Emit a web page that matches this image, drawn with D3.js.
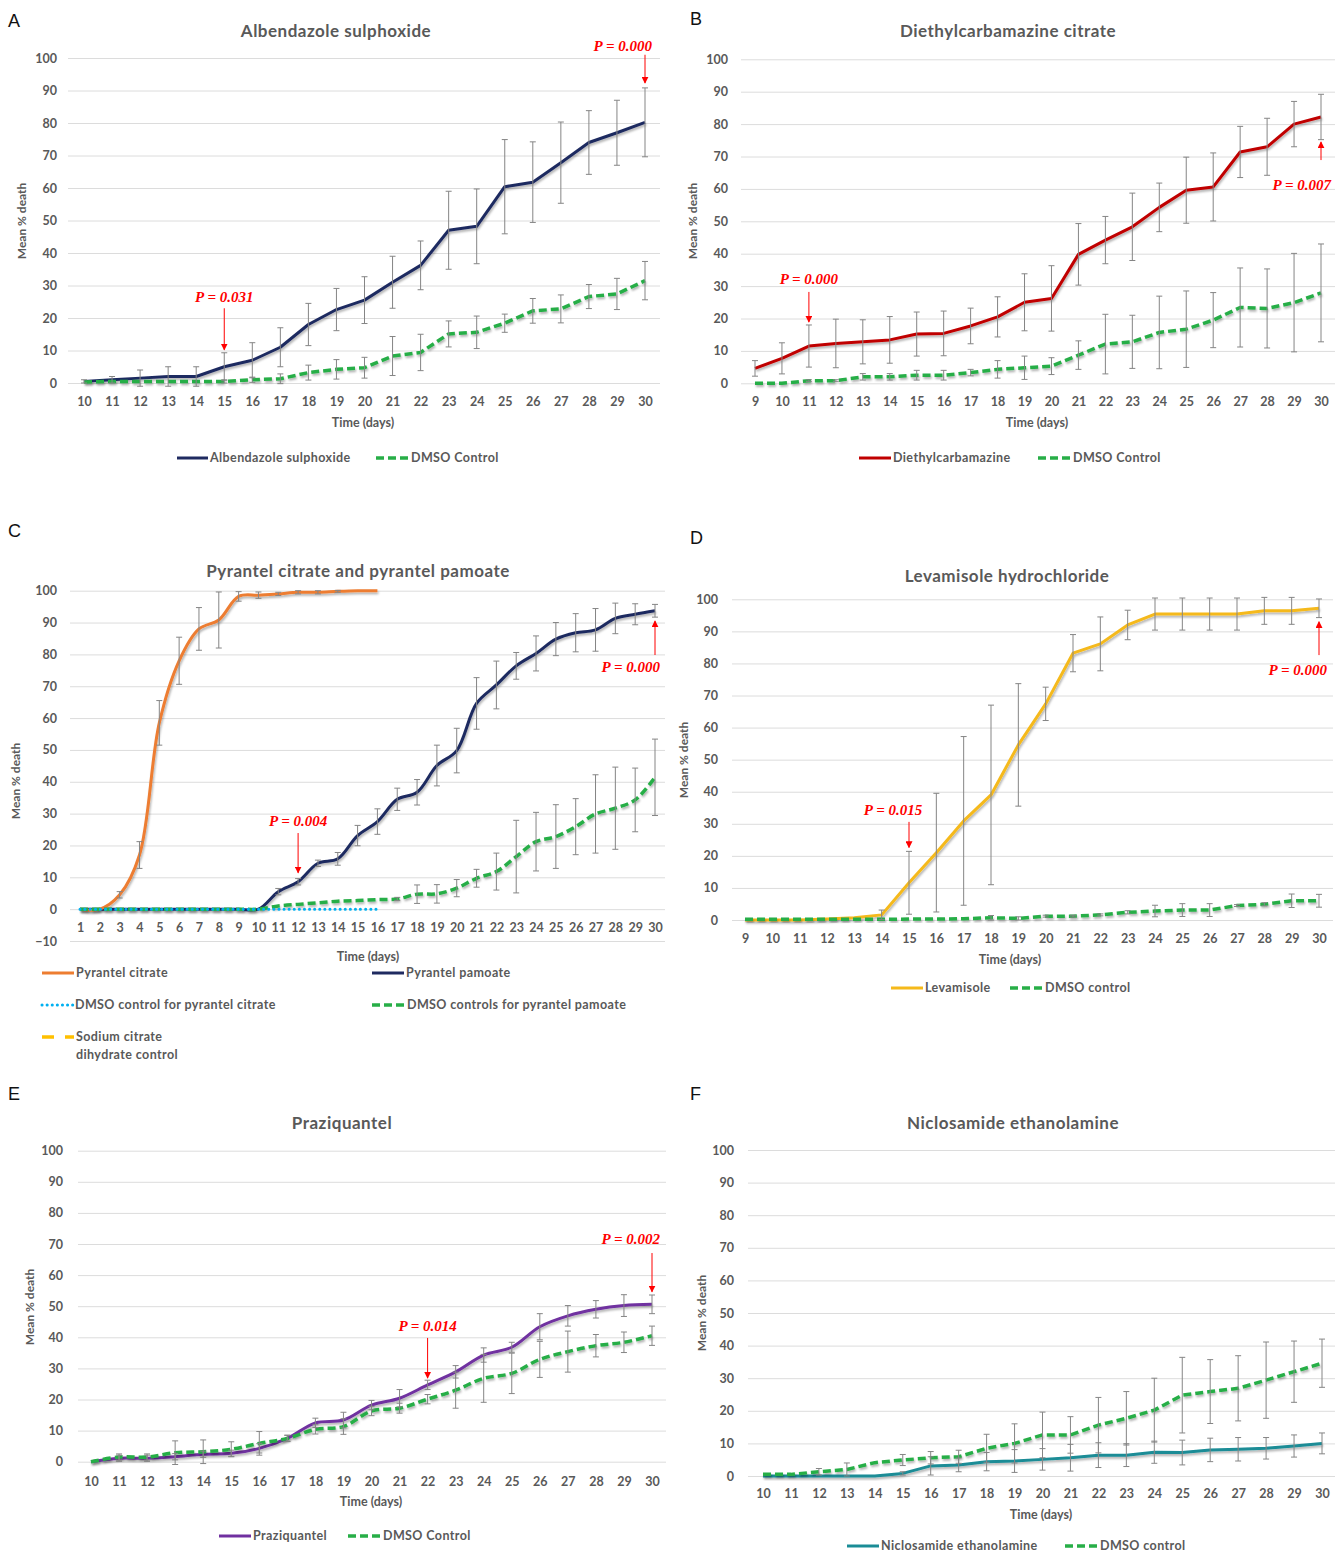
<!DOCTYPE html>
<html>
<head>
<meta charset="utf-8">
<script src="https://cdn.jsdelivr.net/npm/d3@7"></script>
<style>
  body { margin: 0; background: #fff; }
  svg { display: block; }
  text { font-family: Lato, "Open Sans", sans-serif; }
</style>
</head>
<body>
<div id="chart"></div>
<script>
// ---- data (mean % death and SD) ----

// A: albendazole sulphoxide
const daysA = [10, 11, 12, 13, 14, 15, 16, 17, 18, 19, 20, 21, 22, 23, 24, 25, 26, 27, 28, 29, 30];
const albMean = [0.5, 1, 1.5, 2, 2, 5, 7, 11, 18, 22.6, 25.5, 31, 36.2, 47, 48.2, 60.4, 61.8, 67.8, 74, 77, 80.2];
const albSd = [0.5, 1, 2.5, 3, 3, 4.3, 5.4, 6, 6.5, 6.5, 7.2, 8, 7.5, 12, 11.5, 14.5, 12.4, 12.5, 9.8, 10, 10.6];
const albCtrl = [0.3, 0.5, 0.5, 0.5, 0.5, 0.5, 1, 1.3, 3.2, 4.2, 4.7, 8.3, 9.4, 15.1, 15.6, 18.4, 22.2, 22.8, 26.6, 27.4, 31.5];
const albCtrlSd = [0, 0, 0, 0, 0, 0.5, 0.8, 1.5, 2.3, 3, 3.2, 6, 5.6, 4, 5, 2.8, 3.8, 4.3, 3.7, 4.8, 5.9];

// B: diethylcarbamazine citrate
const daysB = [9, 10, 11, 12, 13, 14, 15, 16, 17, 18, 19, 20, 21, 22, 23, 24, 25, 26, 27, 28, 29, 30];
const decMean = [4.6, 7.7, 11.5, 12.3, 12.8, 13.4, 15.2, 15.4, 17.7, 20.5, 25, 26.2, 39.8, 44.2, 48.3, 54.3, 59.6, 60.6, 71.4, 73, 80, 82.2];
const decSd = [2.4, 4.8, 6.5, 7.5, 6.8, 7.2, 6.8, 6.9, 5.5, 6.2, 8.8, 10.1, 9.5, 7.3, 10.4, 7.5, 10.2, 10.5, 7.9, 8.8, 7, 7];
const decCtrl = [0, 0, 0.8, 0.8, 2, 2, 2.5, 2.5, 3.3, 4.3, 4.8, 5.3, 8.7, 12.1, 12.8, 15.7, 16.7, 19.5, 23.4, 23.1, 24.9, 27.9];
const decCtrlSd = [0, 0, 0.3, 0.3, 1, 1, 1.5, 1.5, 1, 2.7, 3.6, 2.6, 4.4, 9.2, 8.2, 11.2, 11.8, 8.5, 12.2, 12.2, 15.2, 15.1];

// C: pyrantel citrate and pyrantel pamoate
const daysC = [1, 2, 3, 4, 5, 6, 7, 8, 9, 10, 11, 12, 13, 14, 15, 16, 17, 18, 19, 20, 21, 22, 23, 24, 25, 26, 27, 28, 29, 30];
const daysCitrate = [1, 2, 3, 4, 5, 6, 7, 8, 9, 10, 11, 12, 13, 14, 15, 16];
const daysSodium = [1, 2, 3, 4, 5, 6, 7, 8, 9, 10, 11, 12, 13, 14, 15];
const pcMean = [0, 0, 4.5, 17, 58.5, 78, 88, 90.8, 98.2, 98.6, 99, 99.5, 99.5, 99.8, 100, 100];
const pcSd = [0, 0, 1, 4.2, 7, 7.4, 6.7, 8.8, 1.5, 1, 0.5, 0.5, 0.5, 0.3, 0, 0];
const pcCtrl = [0, 0, 0, 0, 0, 0, 0, 0, 0, 0, 0, 0, 0, 0, 0, 0];
const sodiumCtrl = [0, 0, 0, 0, 0, 0, 0, 0, 0, 0, 0, 0, 0, 0, 0];
const ppMean = [0, 0, 0, 0, 0, 0, 0, 0, 0, 0, 5.5, 8.6, 14.4, 15.8, 23.1, 27.5, 34.5, 36.7, 45.1, 49.8, 64.6, 70.4, 76.4, 80.3, 84.8, 86.8, 87.7, 91.3, 92.6, 93.7];
const ppSd = [0, 0, 0, 0, 0, 0, 0, 0, 0, 0, 1, 1, 1, 2, 3.2, 4, 3.5, 4, 6.4, 7, 8.1, 7.5, 4.2, 5.5, 5.2, 6, 6.7, 4.8, 3.3, 2];
const ppCtrl = [0, 0, 0, 0, 0, 0, 0, 0, 0, 0, 1, 1.5, 2, 2.5, 2.7, 3, 3.2, 4.7, 4.8, 6.6, 9.7, 11.8, 16.5, 21.2, 22.8, 25.9, 29.9, 31.7, 34.3, 41.4];
const ppCtrlSd = [0, 0, 0, 0, 0, 0, 0, 0, 0, 0, 0, 0, 0, 0, 0, 0, 0.5, 2.9, 2.9, 2.7, 2.8, 5.8, 11.4, 9.2, 10, 8.8, 12.3, 12.9, 10, 12];

// D: levamisole hydrochloride
const daysD = [9, 10, 11, 12, 13, 14, 15, 16, 17, 18, 19, 20, 21, 22, 23, 24, 25, 26, 27, 28, 29, 30];
const levMean = [0, 0, 0, 0.3, 0.7, 1.6, 11.6, 21, 30.9, 39, 54.6, 67.4, 83.2, 86.1, 92, 95.4, 95.4, 95.4, 95.4, 96.4, 96.4, 97.2];
const levSd = [0, 0, 0, 0, 0, 1.5, 9.8, 18.5, 26.3, 28, 19.1, 5.2, 5.8, 8.4, 4.6, 5, 5, 5, 5, 4.2, 4.2, 2.9];
const levCtrl = [0.2, 0.2, 0.2, 0.2, 0.2, 0.2, 0.3, 0.3, 0.4, 0.7, 0.5, 1.2, 1.2, 1.6, 2.4, 2.8, 3.1, 3.1, 4.5, 4.9, 6, 6];
const levCtrlSd = [0, 0, 0, 0, 0, 0, 0, 0, 0, 0.7, 0.5, 0.3, 0.3, 0.3, 0.5, 1.8, 2, 2, 0.3, 0.5, 2.1, 2];

// E: praziquantel
const daysE = [10, 11, 12, 13, 14, 15, 16, 17, 18, 19, 20, 21, 22, 23, 24, 25, 26, 27, 28, 29, 30];
const pzqMean = [0, 1.1, 1.1, 1.6, 2.4, 2.7, 4.3, 7.5, 12.5, 13.4, 18.2, 20.4, 24.7, 28.9, 34.3, 36.8, 43.4, 46.9, 49, 50.2, 50.6];
const pzqSd = [0, 1, 1, 1, 1, 1, 1.5, 1, 1.5, 2.5, 1.5, 2.8, 1.5, 2, 2.3, 1.6, 4.2, 3.3, 2.8, 3.5, 3];
const pzqCtrl = [0, 1.5, 1.5, 2.9, 3.2, 4, 5.9, 7.5, 10.4, 11.3, 16.3, 17.2, 20.1, 23, 26.8, 28.4, 32.9, 35.4, 37.3, 38.4, 40.5];
const pzqCtrlSd = [0, 1, 1, 3.8, 3.8, 2.4, 3.8, 1, 1.5, 2.5, 1.5, 1.6, 1.5, 5.8, 7.7, 6.5, 5.8, 6.6, 3.6, 3.3, 3.1];

// F: niclosamide ethanolamine
const daysF = [10, 11, 12, 13, 14, 15, 16, 17, 18, 19, 20, 21, 22, 23, 24, 25, 26, 27, 28, 29, 30];
const nicMean = [0, 0, 0, 0, 0, 0.8, 3.1, 3.4, 4.4, 4.6, 5.1, 5.6, 6.4, 6.4, 7.3, 7.2, 8, 8.2, 8.5, 9.2, 10];
const nicSd = [0, 0, 0, 0, 0, 0.5, 2.8, 2.1, 2.8, 3.5, 3.3, 4.1, 3.8, 3.5, 3.4, 3.8, 3.6, 3.6, 3.3, 3.4, 3.2];
const nicCtrl = [0.5, 0.5, 1.3, 2, 4.1, 4.9, 5.6, 5.9, 8.5, 10, 12.6, 12.6, 15.6, 17.7, 20.2, 24.8, 25.9, 26.9, 29.4, 32, 34.6];
const nicCtrlSd = [0, 0, 1, 2, 0, 1.7, 1.9, 2, 4.3, 6, 7, 5.6, 8.5, 8.2, 9.8, 11.6, 9.8, 10, 11.7, 9.4, 7.4];

// ---- styles ----
const NAVY = "#1f2a60", GREEN = "#27ae47", RED = "#c00000", ORANGE = "#ed7d31",
      SKY = "#00b0f0", GOLD = "#ffc000", LEV = "#f5b91a", PURPLE = "#7030a0", TEAL = "#1a8c96";
const GREEN_DASH = "8,4";
const TXT = "#595959";

function main() {
    const svg = d3.select("#chart").append("svg")
        .attr("width", 1339)
        .attr("height", 1555)
        .style("background-color", "#fff");

    const defs = svg.append("defs");
    defs.append("filter").attr("id", "shadow")
        .attr("x", "-5%").attr("y", "-5%").attr("width", "110%").attr("height", "120%")
        .append("feDropShadow")
        .attr("dx", 1).attr("dy", 2).attr("stdDeviation", 1)
        .attr("flood-color", "#000").attr("flood-opacity", 0.3);
    defs.append("marker").attr("id", "arrow")
        .attr("viewBox", "0 0 10 10").attr("refX", 9).attr("refY", 5)
        .attr("markerWidth", 7).attr("markerHeight", 7).attr("orient", "auto")
        .append("path").attr("d", "M0,0L10,5L0,10z").attr("fill", "#ff0000");

    // Excel "smoothed line" look for C and E, plain segments elsewhere
    const smooth = d3.curveCatmullRom.alpha(0.5);
    const straight = d3.curveLinear;

    const panels = [
        {
            letter: "A", letterPos: [8, 27], title: "Albendazole sulphoxide", titlePos: [336, 37],
            days: daysA, xr: [84, 645], yMin: 0, yr: [383, 58], grid: [68, 660], tickEnd: 57,
            xTickY: 402, yLabel: [22, 221], xLabel: [363, 427], curve: straight,
            series: [
                { days: daysA, v: albMean, sd: albSd, color: NAVY },
                { days: daysA, v: albCtrl, sd: albCtrlSd, color: GREEN, dash: GREEN_DASH, width: 3.5 }
            ],
            legend: [
                { x: 177, y: 458, len: 31, label: ["Albendazole sulphoxide"], color: NAVY },
                { x: 376, y: 458, len: 33, label: ["DMSO Control"], color: GREEN, dash: GREEN_DASH, width: 3.5 }
            ],
            notes: [
                { day: 15, text: "P = 0.031", textV: 26.5, from: 23, to: 10.2, dx: 0, anchor: "middle" },
                { day: 30, text: "P = 0.000", textV: 103.7, from: 101, to: 92.3, dx: 7, anchor: "end" }
            ]
        },
        {
            letter: "B", letterPos: [690, 25], title: "Diethylcarbamazine citrate", titlePos: [1008, 37],
            days: daysB, xr: [755, 1321], yMin: 0, yr: [383.3, 59.3], grid: [741, 1335], tickEnd: 728,
            xTickY: 402, yLabel: [693, 221], xLabel: [1037, 427], curve: straight,
            series: [
                { days: daysB, v: decMean, sd: decSd, color: RED },
                { days: daysB, v: decCtrl, sd: decCtrlSd, color: GREEN, dash: GREEN_DASH, width: 3.5 }
            ],
            legend: [
                { x: 859, y: 458, len: 32, label: ["Diethylcarbamazine"], color: RED },
                { x: 1038, y: 458, len: 33, label: ["DMSO Control"], color: GREEN, dash: GREEN_DASH, width: 3.5 }
            ],
            notes: [
                { day: 11, text: "P = 0.000", textV: 32.2, from: 28.2, to: 18.9, dx: 0, anchor: "middle" },
                { day: 30, text: "P = 0.007", textV: 61.4, from: 68.9, to: 74.5, dx: 10, anchor: "end" }
            ]
        },
        {
            letter: "C", letterPos: [8, 537], title: "Pyrantel citrate and pyrantel pamoate", titlePos: [358, 577],
            days: daysC, xr: [80, 655], yMin: -10, yr: [941, 590.7], grid: [70, 665], tickEnd: 57,
            xTickY: 928, yLabel: [16, 781], xLabel: [368, 961], curve: smooth,
            series: [
                { days: daysC, v: ppMean, sd: ppSd, color: NAVY },
                { days: daysCitrate, v: pcMean, sd: pcSd, color: ORANGE },
                { days: daysC, v: ppCtrl, sd: ppCtrlSd, color: GREEN, dash: GREEN_DASH, width: 3.5 },
                { days: daysSodium, v: sodiumCtrl, color: GOLD, dash: "10,9", width: 3.5 },
                { days: daysCitrate, v: pcCtrl, color: SKY, dash: "0.1,5", width: 3, cap: "round" }
            ],
            legend: [
                { x: 42, y: 973, len: 32, label: ["Pyrantel citrate"], color: ORANGE },
                { x: 372, y: 973, len: 32, label: ["Pyrantel pamoate"], color: NAVY },
                { x: 42, y: 1005, len: 31, label: ["DMSO control for pyrantel citrate"], color: SKY, dash: "0.1,5", width: 3, cap: "round" },
                { x: 372, y: 1005, len: 33, label: ["DMSO controls for pyrantel pamoate"], color: GREEN, dash: GREEN_DASH, width: 3.5 },
                { x: 42, y: 1037, len: 32, label: ["Sodium citrate", "dihydrate control"], color: GOLD, dash: "12,11", width: 3.5 }
            ],
            notes: [
                { day: 12, text: "P = 0.004", textV: 27.7, from: 23.9, to: 11.4, dx: 0, anchor: "middle" },
                { day: 30, text: "P = 0.000", textV: 76, from: 79.8, to: 90.5, dx: 5, anchor: "end" }
            ]
        },
        {
            letter: "D", letterPos: [690, 544], title: "Levamisole hydrochloride", titlePos: [1007, 582],
            days: daysD, xr: [745, 1319], yMin: 0, yr: [920, 599.3], grid: [732, 1333], tickEnd: 718,
            xTickY: 939, yLabel: [684, 760], xLabel: [1010, 964], curve: straight,
            series: [
                { days: daysD, v: levMean, sd: levSd, color: LEV },
                { days: daysD, v: levCtrl, sd: levCtrlSd, color: GREEN, dash: GREEN_DASH, width: 3.5 }
            ],
            legend: [
                { x: 891, y: 988, len: 32, label: ["Levamisole"], color: LEV },
                { x: 1010, y: 988, len: 33, label: ["DMSO control"], color: GREEN, dash: GREEN_DASH, width: 3.5 }
            ],
            notes: [
                { day: 15, text: "P = 0.015", textV: 34.3, from: 30.6, to: 22.6, dx: -16, anchor: "middle" },
                { day: 30, text: "P = 0.000", textV: 78, from: 82.6, to: 93, dx: 8, anchor: "end" }
            ]
        },
        {
            letter: "E", letterPos: [8, 1100], title: "Praziquantel", titlePos: [342, 1129],
            days: daysE, xr: [91, 652], yMin: 0, yr: [1461.7, 1150.7], grid: [78, 666], tickEnd: 63,
            xTickY: 1482, yLabel: [30, 1307], xLabel: [371, 1506], curve: smooth,
            series: [
                { days: daysE, v: pzqMean, sd: pzqSd, color: PURPLE },
                { days: daysE, v: pzqCtrl, sd: pzqCtrlSd, color: GREEN, dash: GREEN_DASH, width: 3.5 }
            ],
            legend: [
                { x: 219, y: 1536, len: 32, label: ["Praziquantel"], color: PURPLE },
                { x: 348, y: 1536, len: 33, label: ["DMSO Control"], color: GREEN, dash: GREEN_DASH, width: 3.5 }
            ],
            notes: [
                { day: 22, text: "P = 0.014", textV: 43.6, from: 39.8, to: 26.9, dx: 0, anchor: "middle" },
                { day: 30, text: "P = 0.002", textV: 71.6, from: 67.1, to: 54.6, dx: 8, anchor: "end" }
            ]
        },
        {
            letter: "F", letterPos: [690, 1100], title: "Niclosamide ethanolamine", titlePos: [1013, 1129],
            days: daysF, xr: [763, 1322], yMin: 0, yr: [1476, 1150], grid: [748, 1335], tickEnd: 734,
            xTickY: 1494, yLabel: [702, 1313], xLabel: [1041, 1519], curve: straight,
            series: [
                { days: daysF, v: nicMean, sd: nicSd, color: TEAL },
                { days: daysF, v: nicCtrl, sd: nicCtrlSd, color: GREEN, dash: GREEN_DASH, width: 3.5 }
            ],
            legend: [
                { x: 847, y: 1546, len: 32, label: ["Niclosamide ethanolamine"], color: TEAL },
                { x: 1065, y: 1546, len: 33, label: ["DMSO control"], color: GREEN, dash: GREEN_DASH, width: 3.5 }
            ],
            notes: []
        }
    ];

    panels.forEach(p => drawPanel(svg, p));
}

function drawPanel(svg, p) {
    const g = svg.append("g");
    const last = p.days[p.days.length - 1];
    const x = d3.scaleLinear().domain([p.days[0], last]).range(p.xr);
    const y = d3.scaleLinear().domain([p.yMin, 100]).range(p.yr);
    const yTicks = d3.range(p.yMin, 101, 10);

    // panel letter
    g.append("text")
        .attr("x", p.letterPos[0]).attr("y", p.letterPos[1])
        .style("font-family", "Liberation Sans, Arial, sans-serif")
        .style("font-size", "18px").attr("fill", "#111")
        .text(p.letter);

    // title
    g.append("text")
        .attr("x", p.titlePos[0]).attr("y", p.titlePos[1])
        .attr("text-anchor", "middle")
        .style("font-size", "17px").style("font-weight", "bold")
        .style("letter-spacing", "0.5px")
        .attr("fill", TXT)
        .text(p.title);

    // y axis with gridlines
    g.append("g")
        .attr("transform", `translate(${p.grid[0]},0)`)
        .call(d3.axisLeft(y).tickValues(yTicks)
            .tickSize(-(p.grid[1] - p.grid[0]))
            .tickPadding(p.grid[0] - p.tickEnd))
        .call(a => a.select(".domain").remove())
        .call(a => a.selectAll(".tick line").attr("stroke", "#dcdcdc"))
        .call(a => a.selectAll(".tick text")
            .attr("fill", TXT)
            .style("font-family", "Lato, sans-serif")
            .style("font-size", "12.5px").style("font-weight", "bold"));

    // x axis labels
    g.append("g")
        .attr("transform", `translate(0,${p.xTickY})`)
        .call(d3.axisBottom(x).tickValues(p.days).tickFormat(d3.format("d")).tickSize(0).tickPadding(0))
        .call(a => a.select(".domain").remove())
        .call(a => a.selectAll(".tick text")
            .attr("y", 0).attr("dy", "0.35em")
            .attr("fill", TXT)
            .style("font-family", "Lato, sans-serif")
            .style("font-size", "12.5px").style("font-weight", "bold"));

    // axis titles
    g.append("text")
        .attr("transform", `translate(${p.yLabel[0]},${p.yLabel[1]}) rotate(-90)`)
        .attr("text-anchor", "middle").attr("dy", "0.35em")
        .style("font-size", "12px").style("font-weight", "bold")
        .attr("fill", TXT)
        .text("Mean % death");
    g.append("text")
        .attr("x", p.xLabel[0]).attr("y", p.xLabel[1])
        .attr("text-anchor", "middle")
        .style("font-size", "12.5px").style("font-weight", "bold")
        .attr("fill", TXT)
        .text("Time (days)");

    const line = d3.line()
        .x(d => x(d.day))
        .y(d => y(d.v))
        .curve(p.curve);

    const seriesPts = p.series.map(s => ({
        s: s,
        pts: s.days.map((d, i) => ({ day: d, v: s.v[i], sd: s.sd ? s.sd[i] : 0 }))
    }));

    // lines
    seriesPts.forEach(({ s, pts }) => {
        g.append("path")
            .datum(pts)
            .attr("d", line)
            .attr("fill", "none")
            .attr("stroke", s.color)
            .attr("stroke-width", s.width || 3)
            .attr("stroke-dasharray", s.dash || null)
            .attr("stroke-linecap", s.cap || "butt")
            .attr("stroke-linejoin", "round")
            .attr("filter", s.cap ? null : "url(#shadow)");
    });

    // error bars
    seriesPts.forEach(({ pts }) => {
        g.selectAll(null)
            .data(pts.filter(d => d.sd > 0))
            .join("path")
            .attr("d", d => {
                const cx = x(d.day), top = y(d.v + d.sd), bot = y(d.v - d.sd);
                return `M${cx},${top}V${bot}M${cx - 3},${top}h6M${cx - 3},${bot}h6`;
            })
            .attr("fill", "none")
            .attr("stroke", "#858585")
            .attr("stroke-width", 1);
    });

    // p-value notes
    p.notes.forEach(n => {
        const cx = x(n.day);
        g.append("text")
            .attr("x", cx + n.dx).attr("y", y(n.textV))
            .attr("dy", "0.35em")
            .attr("text-anchor", n.anchor)
            .style("font-family", "Liberation Serif, Times New Roman, serif")
            .style("font-size", "15px").style("font-weight", "bold").style("font-style", "italic")
            .attr("fill", "#ff0000")
            .text(n.text);
        g.append("line")
            .attr("x1", cx).attr("x2", cx)
            .attr("y1", y(n.from)).attr("y2", y(n.to))
            .attr("stroke", "#ff0000").attr("stroke-width", 1)
            .attr("marker-end", "url(#arrow)");
    });

    // legend
    p.legend.forEach(l => {
        g.append("line")
            .attr("x1", l.x).attr("x2", l.x + l.len)
            .attr("y1", l.y).attr("y2", l.y)
            .attr("stroke", l.color)
            .attr("stroke-width", l.width || 3)
            .attr("stroke-dasharray", l.dash || null)
            .attr("stroke-linecap", l.cap || "butt");
        l.label.forEach((t, i) => {
            g.append("text")
                .attr("x", l.x + l.len + 2).attr("y", l.y + i * 18)
                .attr("dy", "0.35em")
                .style("font-size", "12.5px").style("font-weight", "bold")
                .style("letter-spacing", "0.4px")
                .attr("fill", TXT)
                .text(t);
        });
    });
}

main();
</script>
</body>
</html>
